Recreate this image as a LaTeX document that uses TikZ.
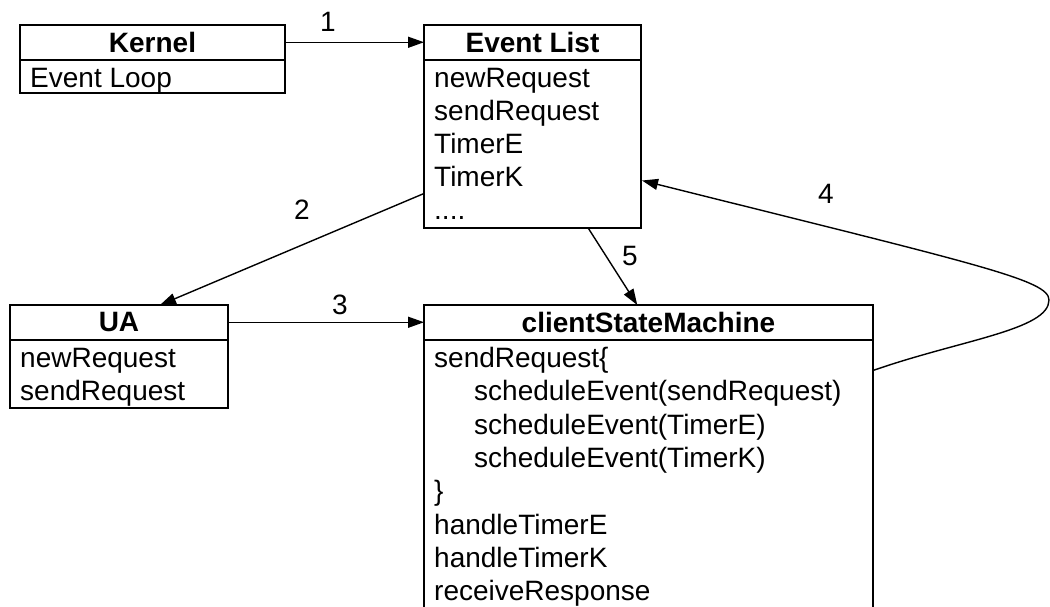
\documentclass[tikz,border=0pt]{standalone}
\usepackage{fontspec}
\setmainfont{Liberation Sans}
\usetikzlibrary{arrows.meta,calc}
\begin{document}
\begin{tikzpicture}[x=1pt,y=-1pt,
  every node/.style={font=\fontsize{28}{33}\selectfont},
  classhead/.style={draw, line width=2pt, inner sep=0pt, outer sep=0pt,
    anchor=north west, minimum height=34.5pt,
    font=\fontsize{28}{33}\selectfont\bfseries},
  classbody/.style={draw, line width=2pt, inner sep=0pt, outer sep=0pt,
    anchor=north west},
  member/.style={inner sep=0pt, anchor=base west},
  flow/.style={line width=1.4pt, -{Triangle[length=16pt,width=11pt]}},
  steplabel/.style={inner sep=0pt}]

\useasboundingbox (0,0) rectangle (1050,606);
\clip (0,0) rectangle (1050,606);

% Kernel
\node[classhead, minimum width=265pt] (kernel) at (20,25) {Kernel};
\node[classbody, minimum width=265pt, minimum height=33.5pt] (kernelbody) at (kernel.south west) {};
\node[member] (kernel-1) at ($(kernelbody.north west)+(10,27.5)$) {Event Loop};

% Event List
\node[classhead, minimum width=217pt] (evhead) at (424,25) {Event List};
\node[classbody, minimum width=217pt, minimum height=168pt] (evbody) at (evhead.south west) {};
\foreach \txt [count=\i] in {newRequest,sendRequest,TimerE,TimerK}
  \node[member] (ev-\i) at ($(evbody.north west)+(10,27.5+33.2*\i-33.2)$) {\txt};
\node[member] (ev-5) at ($(evbody.north west)+(10,27.5+33.2*4)$) {....};

% UA
\node[classhead, minimum width=218pt] (uahead) at (10,305) {UA};
\node[classbody, minimum width=218pt, minimum height=68pt] (uabody) at (uahead.south west) {};
\foreach \txt [count=\i] in {newRequest,sendRequest}
  \node[member] (ua-\i) at ($(uabody.north west)+(10,27.5+33.2*\i-33.2)$) {\txt};

% clientStateMachine (continues below the visible area)
\node[classhead, minimum width=449pt] (csmhead) at (424,305) {clientStateMachine};
\node[classbody, minimum width=449pt, minimum height=320pt] (csmbody) at (csmhead.south west) {};
\foreach \ind/\txt [count=\i] in {10/sendRequest\{,
    50/scheduleEvent(sendRequest),
    50/scheduleEvent(TimerE),
    50/scheduleEvent(TimerK),
    10/\},
    10/handleTimerE,
    10/handleTimerK,
    10/receiveResponse}
  \node[member] (csm-\i) at ($(csmbody.north west)+(\ind,28+33.3*\i-33.3)$) {\txt};

% Connectors
\draw[flow] (kernel.east) -- (evhead.west);
\draw[flow] ($(evbody.west)!0.595!(evbody.south west)$) -- ($(uahead.north)!0.376!(uahead.north east)$);
\draw[flow] (uahead.east) -- (csmhead.west);
\coordinate (loopturn) at (1049,300);
\draw[flow] ($(csmbody.north east)+(0,31)$)
  .. controls (960,340) and (1049,330) .. (loopturn)
  .. controls (1049,280) and (980,265) .. ($(evbody.north east)+(1,121)$);
\draw[flow] ($(evbody.south)!0.51!(evbody.south east)$) -- ($(csmhead.north)!0.05!(csmhead.north west)$);

% Step numbers
\node[steplabel] (lab-1) at (328,22) {1};
\node[steplabel] (lab-2) at (302,210) {2};
\node[steplabel] (lab-3) at (340,305) {3};
\node[steplabel] (lab-4) at (826,194) {4};
\node[steplabel] (lab-5) at (630,256) {5};
\end{tikzpicture}
\end{document}
